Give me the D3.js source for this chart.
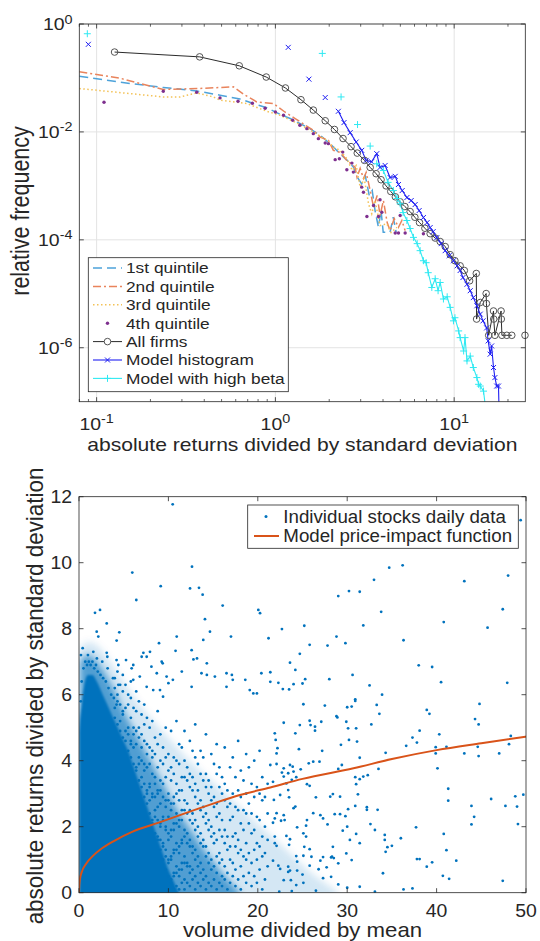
<!DOCTYPE html>
<html><head><meta charset="utf-8">
<script src="https://cdn.jsdelivr.net/npm/d3@7"></script>
<style>
body{margin:0;background:#fff}
text{font-family:"Liberation Sans",Arial,Helvetica,sans-serif;fill:#262626}
</style>
</head><body>
<svg id="c" width="540" height="941"></svg>
<script>
// ---------------- TOP PANEL DATA (log-log) ----------------
const topXTicks = [0.1, 1, 10];
const topXTickExp = ["-1", "0", "1"];
const topYTicks = [1e-6, 1e-4, 1e-2, 1];
const topYTickExp = ["-6", "-4", "-2", "0"];
const legendTop = ["1st quintile","2nd quintile","3rd quintile","4th quintile","All firms","Model histogram","Model with high beta"];

const q1 = [[0.08,0.108],[0.135,0.0835],[0.236,0.0666],[0.363,0.0576],[0.490,0.0479],[0.634,0.0407],[0.753,0.0336],[0.895,0.028],[1.06,0.0212],[1.21,0.0177],[1.37,0.0143],[1.56,0.0115],[1.78,0.00865],[2.02,0.00606],[2.30,0.00395],[2.52,0.00297],[2.73,0.00223],[2.90,0.00137],[3.04,0.00109],[3.18,0.00156],[3.35,0.000663],[3.48,0.00082],[3.61,0.000349],[3.77,0.000171],[3.90,0.000349],[4.01,0.000138],[4.38,0.000138],[4.56,0.000262],[4.74,0.000138]];
const q2 = [[0.08,0.130],[0.135,0.0991],[0.236,0.0611],[0.371,0.0638],[0.582,0.0684],[0.677,0.0479],[0.787,0.036],[0.975,0.0336],[1.13,0.0234],[1.29,0.0177],[1.47,0.0133],[1.63,0.0107],[1.78,0.00804],[1.98,0.00698],[2.11,0.00455],[2.30,0.00418],[2.51,0.00297],[2.79,0.00223],[2.86,0.00145],[2.98,0.00211],[3.11,0.00137],[3.22,0.00177],[3.39,0.00082],[3.54,0.000402],[3.71,0.000663],[3.85,0.000282],[4.02,0.000535],[4.22,0.000209],[4.38,0.000148],[4.62,0.000248],[4.88,0.000171],[5.10,0.000228],[5.32,0.000148]];
const q3 = [[0.08,0.0638],[0.236,0.0445],[0.293,0.0445],[0.363,0.0528],[0.450,0.0445],[0.490,0.0387],[0.692,0.0336],[0.895,0.0241],[1.06,0.0204],[1.32,0.0146],[1.63,0.00995],[1.94,0.00698],[2.11,0.00524],[2.30,0.00455],[2.51,0.00319],[2.69,0.00193],[2.83,0.00239],[2.98,0.000946],[3.14,0.00137],[3.32,0.000465],[3.46,0.000303],[3.61,0.000535],[3.85,0.000184],[4.20,0.000198],[4.44,0.000136],[4.78,0.000171]];
const q4 = [[0.110,0.0355],[0.236,0.0568],[0.363,0.0545],[0.490,0.0427],[0.618,0.037],[0.743,0.034],[0.876,0.0275],[1.0,0.0234],[1.11,0.0204],[1.25,0.0164],[1.37,0.0133],[1.50,0.0115],[1.63,0.00929],[1.74,0.0075],[1.90,0.00622],[1.98,0.00606],[2.16,0.00306],[2.28,0.00319],[2.38,0.00423],[2.51,0.00199],[2.68,0.00264],[2.73,0.0018],[3.04,0.000946],[3.11,0.000764],[3.25,0.00027],[3.54,0.000432],[3.77,0.00027],[3.85,0.000552],[3.94,0.000324],[4.68,0.000134],[4.88,0.000134],[4.99,0.000282],[5.32,0.000134],[6.73,0.000130]];
const allFirms = [[0.126,0.302],[0.377,0.246],[0.628,0.168],[0.889,0.104],[1.138,0.0652],[1.39,0.0395],[1.63,0.0254],[1.90,0.0161],[2.14,0.0111],[2.39,0.00754],[2.65,0.00533],[2.87,0.00405],[3.15,0.00297],[3.39,0.00220],[3.66,0.00168],[3.90,0.00130],[4.16,0.00100],[4.42,0.000787],[4.69,0.000627],[4.99,0.000506],[5.30,0.000414],[5.67,0.000334],[6.03,0.000262],[6.40,0.000209],[6.86,0.000164],[7.34,0.000130],[7.83,0.000108],[8.35,9.3e-5],[8.91,7.5e-5],[9.50,5.3e-5],[10.1,4.1e-5],[10.8,3.3e-5],[11.4,2.7e-5],[12.2,1.74e-5],[13.3,2.38e-5],[13.35,3.4e-6],[14.0,6.9e-6],[15.1,1.01e-5],[15.15,6.6e-6],[15.6,1.7e-6],[16.6,4.8e-6],[16.65,3.4e-6],[16.9,1.7e-6],[18.3,4.8e-6],[18.35,3.4e-6],[18.5,1.7e-6],[19.7,1.7e-6],[21.0,1.7e-6],[22.5,0],[24.9,1.7e-6]];
const modelHist = [[0.0899,0.42],[0.1,0],[1.18,0.369],[1.3,0],[1.54,0.095],[1.7,0],[1.90,0.0434],[2.05,0],[2.25,0.0241],[2.42,0.0149],[2.62,0.0097],[2.83,0.00649],[3.04,0.00455],[3.22,0.00297],[3.45,0.0028],[3.69,0.00395],[3.85,0.0022],[4.11,0.00239],[4.38,0.00143],[4.68,0.0015],[4.88,0.00106],[5.12,0.00082],[5.44,0.000608],[5.75,0.000535],[6.05,0.000451],[6.37,0.000349],[6.73,0.000259],[7.06,0.000209],[7.34,0.000169],[7.63,0.000142],[8.00,0.00011],[8.46,8.5e-5],[8.91,6.3e-5],[9.38,5.1e-5],[9.91,4.1e-5],[10.4,3.3e-5],[10.8,2.7e-5],[11.2,2.0e-5],[11.8,1.5e-5],[12.3,1.14e-5],[12.8,8.5e-6],[13.4,6.0e-6],[14.0,4.2e-6],[14.5,3.15e-6],[15.2,2.33e-6],[15.5,1.34e-6],[15.9,7.6e-7],[16.2,1.08e-6],[16.6,4.3e-7],[16.9,2.8e-7],[17.3,1.95e-7],[17.7,1.95e-7],[17.8,9e-8]];
const highBeta = [[0.0887,0.66],[0.1,0],[1.83,0.285],[2.0,0],[2.33,0.0445],[2.55,0],[2.88,0.0137],[3.1,0],[3.39,0.00547],[3.55,0],[3.69,0.00257],[4.02,0.00193],[4.27,0.00116],[4.57,0.00082],[4.80,0.000583],[4.99,0.000465],[5.18,0.00032],[5.44,0.000228],[5.67,0.000162],[5.92,0.000111],[6.21,8.5e-5],[6.45,6.3e-5],[6.73,4.1e-5],[6.97,3.77e-5],[7.16,2.46e-5],[7.50,1.31e-5],[7.83,1.9e-5],[8.13,1.14e-5],[8.35,1.62e-5],[8.71,8.0e-6],[9.14,8.8e-6],[9.50,5.6e-6],[9.91,3.15e-6],[10.1,3.6e-6],[10.6,2.05e-6],[10.8,1.54e-6],[11.3,8.7e-7],[11.5,1.54e-6],[11.8,5.7e-7],[12.3,7.0e-7],[12.8,4.3e-7],[13.4,2.8e-7],[13.7,2.1e-7],[14.0,1.95e-7],[14.6,1.57e-7],[14.9,9e-8]];

// ---------------- BOTTOM PANEL DATA ----------------
const botXTicks = [0,10,20,30,40,50];
const botYTicks = [0,2,4,6,8,10,12];
const legendBot = ["Individual stocks daily data","Model price-impact function"];
// density contours of the point cloud (upper edges)
const cloudCore = [[0.03,0],[0.03,4.8],[0.3,5.7],[0.6,6.3],[1.0,6.6],[1.5,6.6],[2.0,6.4],[2.5,6.1],[3.0,5.8],[3.5,5.5],[4.0,5.2],[4.5,4.9],[5.0,4.6],[5.5,4.3],[6.0,3.9],[6.5,3.5],[7.0,3.1],[7.5,2.7],[8.0,2.3],[8.5,1.9],[9.0,1.5],[9.5,1.1],[10.0,0.7],[10.5,0.4],[11.0,0.1],[11.2,0]];
const cloudMid = [[0.03,0],[0.03,7.0],[1,7.2],[2,7.0],[3,6.6],[4,6.1],[5,5.5],[6,5.0],[7,4.5],[8,4.0],[9,3.5],[10,3.0],[11,2.5],[12,2.1],[13,1.7],[14,1.3],[15,0.95],[16,0.6],[17,0.3],[18,0]];
const cloudOuter = [[0.03,0],[0.03,7.4],[1,7.6],[2,7.5],[3,7.2],[4,6.8],[5,6.4],[6,6.0],[8,5.3],[10,4.7],[12,4.1],[14,3.6],[16,3.1],[18,2.6],[20,2.1],[22,1.6],[24,1.1],[26,0.6],[28,0.2],[29,0]];
const fringeCols = [
[4.0,[5.3,5.6,6.2,6.5]],[4.3,[5.1,5.8,6.0,6.7]],[4.6,[4.9,5.2,5.7,6.3]],[4.9,[4.7,5.4,5.5,6.1,6.6]],
[5.2,[4.6,4.9,5.6,6.3]],[5.5,[4.3,4.8,5.0,5.7,6.0]],[5.8,[4.1,4.5,4.6,5.3,5.9,6.4]],[6.1,[3.9,4.4,4.8,5.0,5.6]],
[6.4,[3.7,3.8,4.5,4.9,5.5,6.1]],[6.7,[3.4,3.9,4.1,4.7,5.0,5.8]],[7.0,[3.2,3.5,4.0,4.4,4.8,5.4]],[7.3,[2.9,3.3,3.7,3.9,4.6,5.1,5.7]],
[7.6,[2.7,3.0,3.1,3.8,4.2,4.5,5.3]],[7.9,[2.4,2.8,3.2,3.3,3.9,4.4,5.0]],[8.2,[2.1,2.2,2.9,3.0,3.6,4.1,4.3,5.2]],[8.5,[1.8,2.3,2.5,2.9,3.3,3.5,4.2,4.7]],
[8.8,[1.6,1.7,2.2,2.6,3.0,3.1,3.8,4.5,5.5]],[9.1,[1.3,1.6,2.0,2.1,2.7,3.1,3.4,4.0,4.8]],[9.4,[1.0,1.4,1.5,2.2,2.3,2.9,3.3,3.9,4.4]],[9.7,[0.7,1.1,1.3,1.9,2.0,2.6,2.8,3.5,4.1,5.0]],
[10.0,[0.5,0.9,1.0,1.6,1.8,2.3,2.8,3.0,3.7,4.2]],[10.3,[0.3,0.4,1.0,1.1,1.7,1.9,2.5,2.7,3.4,3.8,4.9]],[10.6,[0.1,0.5,0.6,1.2,1.3,1.9,2.1,2.7,2.9,3.6,4.1]],[10.9,[0.2,0.6,0.8,1.3,1.5,2.1,2.4,3.0,3.3,4.0,5.2]],
[11.2,[0.1,0.5,0.7,1.2,1.4,2.0,2.2,2.8,3.1,3.9,4.5]],[11.5,[0.3,0.7,0.9,1.5,1.6,2.2,2.5,3.1,3.5,4.4]],[11.8,[0.1,0.4,0.9,1.1,1.7,1.9,2.5,2.8,3.5,4.0,4.9]],[12.1,[0.3,0.8,0.9,1.5,1.8,2.4,2.7,3.4,3.8]],
[12.4,[0.2,0.6,0.8,1.4,1.6,2.2,2.5,3.2,3.6,4.6]],[12.7,[0.4,0.7,1.2,1.4,2.1,2.4,3.1,3.5,4.3]],[13.0,[0.1,0.5,1.0,1.3,1.9,2.2,2.9,3.3,4.1,5.1]],[13.3,[0.3,0.8,1.1,1.7,2.0,2.7,3.1,3.9]],
[13.6,[0.2,0.6,0.9,1.5,1.8,2.5,2.8,3.6,4.3]],[13.9,[0.4,0.7,1.4,1.6,2.3,2.6,3.4,4.1]],[14.2,[0.1,0.5,1.1,1.4,2.1,2.4,3.2,3.6,4.8]],[14.5,[0.3,0.9,1.2,1.9,2.2,3.0,3.4]],
[14.8,[0.2,0.7,1.0,1.7,2.0,2.8,3.2,4.2]],[15.1,[0.4,0.8,1.5,1.8,2.6,2.9,3.9]],[15.4,[0.1,0.6,1.1,1.6,2.3,2.7,3.6,4.5]],[15.7,[0.3,0.9,1.2,1.9,2.4,3.2,3.8]],
[16.0,[0.2,0.5,1.0,1.7,2.2,3.0,3.5]],[16.3,[0.4,0.8,1.5,1.9,2.8,3.3,4.4]],[16.6,[0.1,0.6,1.3,1.7,2.6,3.1]],[16.9,[0.3,1.0,1.4,2.2,2.7,3.8]],
[17.2,[0.5,0.9,1.7,2.3,3.0,4.1]],[17.5,[0.2,0.7,1.4,1.8,2.6,3.5]],[17.8,[0.4,1.2,1.6,2.5,3.1,4.6]],[18.1,[0.1,0.8,1.3,2.1,2.9,3.7]],
[18.4,[0.5,1.1,1.9,2.5,3.4]],[18.7,[0.3,1.0,1.5,2.4,3.0,4.2]],[19.0,[0.6,1.2,2.1,2.7,3.8]],[19.3,[0.2,0.9,1.8,2.4,3.3]],
[19.6,[0.5,1.3,1.9,2.9,4.0]],[19.9,[0.3,1.0,1.5,2.3,3.2]],[20.2,[0.7,1.4,2.2,3.0,4.3]],[20.5,[0.1,1.1,1.7,2.8,3.5]],
[20.8,[0.4,1.2,2.0,2.9]],[21.1,[0.8,1.6,2.4,3.3]]
];
const blobTop = [[0.3,6.4],[0.5,6.8],[0.7,7.0],[0.9,6.9],[1.1,7.0],[1.3,6.9],[1.5,7.0],[1.7,6.8],[1.9,6.9],[2.1,6.7],[2.4,6.6],[2.7,6.5],[3.0,6.4],[3.3,6.2],[3.6,6.0],[3.9,5.9],[4.2,5.7],[1.0,7.2],[2.0,7.1],[0.2,5.8],[3.2,6.8],[2.6,7.0],[3.8,6.5],[4.4,6.3],[1.6,7.3]];
const outliers = [
[10.48,11.77],[5.96,9.70],[12.64,9.88],[9.14,9.29],[12.42,9.22],[13.42,9.24],[13.83,9.03],[6.41,8.87],[16.07,8.70],[1.79,8.48],[2.35,8.57],[20.06,8.57],[20.25,8.47],[14.09,8.29],[3.10,8.16],[1.98,7.91],[2.16,7.76],[4.51,7.89],[14.65,7.91],[4.21,7.64],[10.93,7.76],[17.0,7.76],[13.9,7.66],[0.41,7.41],[0.22,7.20],[8.95,7.56],[12.6,7.35],[21.2,7.71],[5.26,7.05],[7.2,7.27],[7.57,7.15],[7.01,7.15],[7.94,7.30],[5.89,6.80],[6.07,6.90],[3.1,7.27],[3.17,7.15],[9.25,7.0],[9.36,6.95],[10.8,7.33],[12.8,7.07],[13.2,7.1],[14.3,6.95],[4.2,7.05],[4.4,6.9],[8.1,6.85],[8.7,6.65],[11.5,6.70],[13.7,6.65],[14.3,6.6],[16.5,6.65],[17.1,6.6],[15.2,6.55],[18.6,6.45],[20.4,6.65],[10.5,6.45],[12.6,6.24],[6.07,6.45],[6.8,6.55],[9.8,6.55],[10.0,6.35],[7.57,6.24],[8.3,6.14],[9.06,6.14],[9.4,5.94],[19.1,6.14],[19.5,6.04],[16.5,6.24],[19.9,6.04],[17.2,6.45],
[49.4,11.29],[34.7,9.85],[36.2,9.92],[33.0,9.48],[43.1,9.44],[48.0,9.61],[29.0,8.99],[30.2,9.14],[31.4,9.12],[33.8,8.51],[47.4,8.59],[22.7,7.99],[25.2,8.09],[31.8,8.10],[40.8,8.20],[45.7,8.03],[25.8,7.51],[27.8,7.49],[28.8,7.76],[29.8,7.56],[36.3,7.65],[24.7,7.24],[23.6,6.97],[24.2,6.75],[38.0,6.89],[39.5,6.84],[21.4,6.68],[21.4,6.39],[22.3,6.36],[22.8,6.17],[23.5,6.16],[24.0,6.32],[25.0,6.34],[25.3,6.47],[28.0,6.47],[30.6,6.6],[32.5,6.28],[33.9,6.0],[40.5,6.38],[47.9,6.36],[30.9,5.86],
[25.1,5.71],[27.5,5.67],[30.0,5.62],[30.5,5.64],[30.9,5.81],[33.3,5.69],[33.6,5.42],[38.9,5.54],[39.2,5.42],[44.8,5.72],[44.3,5.26],[44.7,5.10],[22.9,5.15],[24.2,4.83],[21.9,4.83],[24.7,5.08],[25.8,5.21],[25.9,5.08],[26.4,5.03],[26.4,4.91],[27.1,5.18],[28.8,5.35],[28.9,5.31],[29.9,5.18],[30.1,4.98],[31.0,4.98],[31.1,4.58],[32.7,5.10],[29.3,4.48],[30.2,4.63],[24.6,4.35],[22.0,4.63],[22.2,4.38],[22.1,4.22],[27.2,4.30],[31.4,4.09],[34.3,4.24],[36.6,4.45],[37.3,4.70],[37.8,4.55],[38.1,4.91],[39.9,4.41],[39.9,4.22],[40.3,4.80],[41.1,4.42],[43.1,4.22],[44.7,4.14],[44.6,4.42],[47.0,4.22],[48.1,4.50],[48.3,4.75],
[29.0,3.75],[29.4,3.87],[26.9,3.97],[26.2,3.97],[25.7,3.92],[24.8,3.74],[23.9,3.82],[24.0,3.67],[23.4,3.62],[31.4,3.44],[32.3,3.56],[33.5,3.75],[30.9,3.50],[31.0,3.29],[31.2,2.98],[31.8,3.52],[40.1,3.77],[41.3,3.15],[41.3,2.79],[46.1,2.84],[47.7,2.63],[48.8,2.92],[49.7,2.97],[49.0,2.61],[49.1,2.08],[43.9,2.63],[44.2,2.30],[43.9,2.07],[26.5,2.89],[28.1,2.91],[29.2,2.91],[28.4,2.99],[30.9,2.63],[32.2,2.59],[32.2,2.51],[33.4,2.51],[23.5,2.89],[24.2,2.61],[24.0,2.56],[30.1,2.53],[29.8,2.32],[27.0,2.35],[27.3,2.25],[26.2,2.41],[25.5,2.20],[28.6,2.38],[29.2,2.38],[27.8,2.07],[22.1,2.41],[22.9,2.35],[23.0,2.20],[22.6,2.18],[21.9,2.25],[21.7,2.12],[24.4,1.98],[25.4,2.03],[30.0,2.00],[29.5,1.88],[32.6,2.08],[33.1,1.90],[31.0,1.78],[31.4,1.50],[34.2,1.75],[34.2,1.60],[34.5,1.38],[34.3,1.24],[35.0,1.42],[36.0,1.65],[37.7,1.98],[40.8,1.78],[41.1,1.29],[21.9,1.70],[21.9,1.50],[22.1,1.42],[23.2,1.72],[23.6,1.62],[23.5,1.45],[25.1,1.80],[25.4,1.70],[25.8,1.32],[25.2,1.39],[28.4,1.39],[27.3,1.08],[28.2,1.07],[28.5,1.05],[30.3,1.60],[29.9,1.19],[30.5,0.99],[37.8,1.02],[38.1,1.02],[38.9,0.79],[39.5,0.92],[42.2,0.97],[40.7,0.51],[41.4,0.42],[47.4,0.36],[34.0,0.59],
[21.7,0.97],[22.3,0.82],[22.5,0.72],[23.4,0.79],[23.4,0.63],[23.6,0.67],[24.4,0.67],[24.4,0.94],[24.3,1.11],[25.1,1.12],[26.0,1.09],[25.8,0.82],[26.8,0.71],[27.7,0.77],[27.3,0.44],[28.2,0.48],[29.0,0.25],[30.0,0.15],[31.4,0.18],[33.1,0.03],[26.5,0.06],[25.1,0.30],[24.3,0.23],[23.8,0.05],[22.9,0.38],[22.4,0.03],[27.0,0.97],[28.3,1.09],[29.0,0.89],[23.7,0.38],[25.0,0.55],[36.3,0.10],[37.3,0.13],
[21.4,3.87],[22.1,3.90],[22.9,3.77],[23.6,3.87],[22.7,3.64],[22.9,3.52],[23.8,3.42],[24.3,3.50],[25.5,3.29],[25.8,3.24],[23.4,3.11],[22.5,2.96],[21.8,2.81],[21.7,3.36],[23.2,3.31]
];
const impactCurve = [[0,0],[0.03,0.2],[0.1,0.4],[0.3,0.62],[0.8,0.88],[1.5,1.1],[2.5,1.33],[4,1.58],[6,1.85],[9,2.13],[12,2.42],[15,2.7],[18,2.96],[21.4,3.19],[25,3.45],[30.7,3.77],[35,4.05],[40,4.32],[45,4.53],[50,4.73]];

// ---------------- COLOURS ----------------
const axCol = "#262626", gridCol = "#e3e3e3";
const cQ1 = "#4EA3DA", cQ2 = "#E9845C", cQ3 = "#F3C257", cQ4 = "#7E2F8E";
const cAll = "#2b2b2b", cAllMk = "#555", cHist = "#1f1ff2", cBeta = "#2fe9f2";
const cDots = "#0072BD", cCurve = "#D95319";

const svg = d3.select("#c");
const defs = svg.append("defs");
defs.append("filter").attr("id","soft").attr("x","-10%").attr("y","-10%").attr("width","120%").attr("height","120%")
  .append("feGaussianBlur").attr("stdDeviation",3.5);
defs.append("filter").attr("id","soft2").attr("x","-10%").attr("y","-10%").attr("width","120%").attr("height","120%")
  .append("feGaussianBlur").attr("stdDeviation",1.3);

function powLabel(x, y, e, anchor, fs, sx){
  const t = svg.append("text").attr("transform",`translate(${x},${y}) scale(${sx},1)`)
    .attr("text-anchor",anchor).style("font-size",fs+"px");
  t.append("tspan").text("10");
  t.append("tspan").attr("dy",-6.5).style("font-size","12px").text(e);
}

// ================= TOP PANEL =================
const T = {l:79.3, r:525.3, t:24, b:401.7};
const xT = d3.scaleLog().domain([0.08,25]).range([T.l,T.r]);
const yT = d3.scaleLog().domain([1e-7,1]).range([T.b,T.t]);
defs.append("clipPath").attr("id","clipT").append("rect").attr("x",T.l).attr("y",T.t).attr("width",T.r-T.l).attr("height",T.b-T.t);

const gT = svg.append("g");
topXTicks.forEach(v=>gT.append("line").attr("x1",xT(v)).attr("x2",xT(v)).attr("y1",T.t).attr("y2",T.b).attr("stroke",gridCol).attr("stroke-width",1));
topYTicks.forEach(v=>gT.append("line").attr("y1",yT(v)).attr("y2",yT(v)).attr("x1",T.l).attr("x2",T.r).attr("stroke",gridCol).attr("stroke-width",1));

const lineT = d3.line().defined(d=>d[1]>0).x(d=>xT(d[0])).y(d=>yT(d[1]));
const gData = gT.append("g");
const gLines = gData.append("g").attr("clip-path","url(#clipT)");
gLines.append("path").attr("d",lineT(q1)).attr("fill","none").attr("stroke",cQ1).attr("stroke-width",1.5).attr("stroke-dasharray","9,5");
gLines.append("path").attr("d",lineT(q2)).attr("fill","none").attr("stroke",cQ2).attr("stroke-width",1.5).attr("stroke-dasharray","8,3,2,3");
gLines.append("path").attr("d",lineT(q3)).attr("fill","none").attr("stroke",cQ3).attr("stroke-width",1.5).attr("stroke-dasharray","1.5,2.5");
gData.selectAll(".q4").data(q4).join("circle").attr("cx",d=>xT(d[0])).attr("cy",d=>yT(d[1])).attr("r",1.7).attr("fill",cQ4);
gLines.append("path").attr("d",lineT(allFirms)).attr("fill","none").attr("stroke",cAll).attr("stroke-width",1);
gData.selectAll(".af").data(allFirms.filter(d=>d[1]>0)).join("circle").attr("cx",d=>xT(d[0])).attr("cy",d=>yT(d[1])).attr("r",3.3).attr("fill","none").attr("stroke",cAllMk).attr("stroke-width",1);
gLines.append("path").attr("d",lineT(modelHist)).attr("fill","none").attr("stroke",cHist).attr("stroke-width",1.1);
gData.selectAll(".mh").data(modelHist.filter(d=>d[1]>=1e-7)).join("path").attr("transform",d=>`translate(${xT(d[0])},${yT(d[1])})`).attr("d","M-2.5,-2.5L2.5,2.5M-2.5,2.5L2.5,-2.5").attr("stroke",cHist).attr("stroke-width",1);
gLines.append("path").attr("d",lineT(highBeta)).attr("fill","none").attr("stroke",cBeta).attr("stroke-width",1.1);
gData.selectAll(".hb").data(highBeta.filter(d=>d[1]>=1e-7)).join("path").attr("transform",d=>`translate(${xT(d[0])},${yT(d[1])})`).attr("d","M-3.5,0H3.5M0,-3.5V3.5").attr("stroke",cBeta).attr("stroke-width",1);

gT.append("rect").attr("x",T.l).attr("y",T.t).attr("width",T.r-T.l).attr("height",T.b-T.t).attr("fill","none").attr("stroke",axCol).attr("stroke-width",0.8);
const minorX = [];
[0.01,0.1,1,10].forEach(dec=>{for(let k=2;k<=9;k++){const v=dec*k; if(v>=0.08&&v<=25) minorX.push(v);}});
minorX.forEach(v=>{
  gT.append("line").attr("x1",xT(v)).attr("x2",xT(v)).attr("y1",T.b).attr("y2",T.b-2.7).attr("stroke",axCol).attr("stroke-width",0.7);
  gT.append("line").attr("x1",xT(v)).attr("x2",xT(v)).attr("y1",T.t).attr("y2",T.t+2.7).attr("stroke",axCol).attr("stroke-width",0.7);
});
topXTicks.forEach(v=>{
  gT.append("line").attr("x1",xT(v)).attr("x2",xT(v)).attr("y1",T.b).attr("y2",T.b-4.5).attr("stroke",axCol).attr("stroke-width",0.8);
  gT.append("line").attr("x1",xT(v)).attr("x2",xT(v)).attr("y1",T.t).attr("y2",T.t+4.5).attr("stroke",axCol).attr("stroke-width",0.8);
});
topYTicks.forEach(v=>{
  gT.append("line").attr("y1",yT(v)).attr("y2",yT(v)).attr("x1",T.l).attr("x2",T.l+4.5).attr("stroke",axCol).attr("stroke-width",0.8);
  gT.append("line").attr("y1",yT(v)).attr("y2",yT(v)).attr("x1",T.r).attr("x2",T.r-4.5).attr("stroke",axCol).attr("stroke-width",0.8);
});
topXTicks.forEach((v,i)=>powLabel(xT(v),429.5,topXTickExp[i],"middle",16.2,1.2));
topYTicks.forEach((v,i)=>powLabel(72.5,yT(v)+6,topYTickExp[i],"end",16.2,1.2));
svg.append("text").attr("transform","translate(302.3,451) scale(1.16,1)").attr("text-anchor","middle").style("font-size","18.2px").text("absolute returns divided by standard deviation");
svg.append("text").attr("transform","translate(28.5,211) scale(1.17,1) rotate(-90)").attr("text-anchor","middle").style("font-size","21.5px").text("relative frequency");

const LT = {x:88.3, y:257.7, w:200, h:134};
svg.append("rect").attr("x",LT.x).attr("y",LT.y).attr("width",LT.w).attr("height",LT.h).attr("fill","#fff").attr("stroke",axCol).attr("stroke-width",0.8);
const rowY = i => 268 + i*18.4;
const sx0 = 93, sx1 = 122, sxm = 107.5;
const sample = (i,col,dash,w)=>svg.append("line").attr("x1",sx0).attr("x2",sx1).attr("y1",rowY(i)).attr("y2",rowY(i)).attr("stroke",col).attr("stroke-width",w).attr("stroke-dasharray",dash);
sample(0,cQ1,"9,5",1.5);
sample(1,cQ2,"8,3,2,3",1.5);
sample(2,cQ3,"1.5,2.5",1.5);
svg.append("circle").attr("cx",sxm).attr("cy",rowY(3)).attr("r",1.7).attr("fill",cQ4);
sample(4,cAll,null,1);
svg.append("circle").attr("cx",sxm).attr("cy",rowY(4)).attr("r",3.3).attr("fill","#fff").attr("stroke",cAllMk);
sample(5,cHist,null,1.1);
svg.append("path").attr("transform",`translate(${sxm},${rowY(5)})`).attr("d","M-2.5,-2.5L2.5,2.5M-2.5,2.5L2.5,-2.5").attr("stroke",cHist);
sample(6,cBeta,null,1.1);
svg.append("path").attr("transform",`translate(${sxm},${rowY(6)})`).attr("d","M-3.5,0H3.5M0,-3.5V3.5").attr("stroke",cBeta);
legendTop.forEach((s,i)=>svg.append("text").attr("transform",`translate(126,${rowY(i)+5.3}) scale(1.17,1)`).style("font-size","14.8px").text(s));

// ================= BOTTOM PANEL =================
const B = {l:79, r:526, t:496.7, b:892.7};
const xB = d3.scaleLinear().domain([0,50]).range([B.l,B.r]);
const yB = d3.scaleLinear().domain([0,12]).range([B.b,B.t]);
defs.append("clipPath").attr("id","clipB").append("rect").attr("x",B.l).attr("y",B.t).attr("width",B.r-B.l).attr("height",B.b-B.t);
const gB = svg.append("g").attr("clip-path","url(#clipB)");
const areaB = d3.area().x(d=>xB(d[0])).y0(B.b+20).y1(d=>yB(d[1])).curve(d3.curveMonotoneX);
const gHaze = gB.append("g").attr("filter","url(#soft)");
gHaze.append("path").attr("d",areaB(cloudOuter)).attr("fill",cDots).attr("opacity",0.17);
gHaze.append("path").attr("d",areaB(cloudMid)).attr("fill",cDots).attr("opacity",0.62);
gB.append("g").attr("filter","url(#soft2)").append("path").attr("d",areaB(cloudCore)).attr("fill",cDots);
const fringePts = fringeCols.flatMap(c=>c[1].map(y=>[c[0],y]));
const allPts = fringePts.concat(blobTop, outliers);
gB.selectAll(".pt").data(allPts).join("circle").attr("cx",d=>xB(d[0])).attr("cy",d=>yB(d[1])).attr("r",1.4).attr("fill",cDots);
gB.append("path").attr("d",d3.line().x(d=>xB(d[0])).y(d=>yB(d[1])).curve(d3.curveMonotoneX)(impactCurve)).attr("fill","none").attr("stroke",cCurve).attr("stroke-width",2);

const gBA = svg.append("g");
gBA.append("rect").attr("x",B.l).attr("y",B.t).attr("width",B.r-B.l).attr("height",B.b-B.t).attr("fill","none").attr("stroke",axCol).attr("stroke-width",0.8);
botXTicks.forEach(v=>{
  gBA.append("line").attr("x1",xB(v)).attr("x2",xB(v)).attr("y1",B.b).attr("y2",B.b-4.5).attr("stroke",axCol).attr("stroke-width",0.8);
  gBA.append("line").attr("x1",xB(v)).attr("x2",xB(v)).attr("y1",B.t).attr("y2",B.t+4.5).attr("stroke",axCol).attr("stroke-width",0.8);
  gBA.append("text").attr("transform",`translate(${xB(v)},916.5) scale(1.05,1)`).attr("text-anchor","middle").style("font-size","18.5px").text(v);
});
botYTicks.forEach(v=>{
  gBA.append("line").attr("y1",yB(v)).attr("y2",yB(v)).attr("x1",B.l).attr("x2",B.l+4.5).attr("stroke",axCol).attr("stroke-width",0.8);
  gBA.append("line").attr("y1",yB(v)).attr("y2",yB(v)).attr("x1",B.r).attr("x2",B.r-4.5).attr("stroke",axCol).attr("stroke-width",0.8);
  gBA.append("text").attr("transform",`translate(72,${yB(v)+6.6}) scale(1.05,1)`).attr("text-anchor","end").style("font-size","18.5px").text(v);
});
svg.append("text").attr("transform","translate(302.5,937) scale(1.11,1)").attr("text-anchor","middle").style("font-size","20px").text("volume divided by mean");
svg.append("text").attr("transform","translate(43,696) scale(1.05,1) rotate(-90)").attr("text-anchor","middle").style("font-size","22.4px").text("absolute returns divided by standard deviation");

svg.append("rect").attr("x",247.7).attr("y",505).attr("width",270.6).attr("height",43.3).attr("fill","#fff").attr("stroke",axCol).attr("stroke-width",0.8);
svg.append("circle").attr("cx",266).attr("cy",516.5).attr("r",1.5).attr("fill",cDots);
svg.append("line").attr("x1",254).attr("x2",279).attr("y1",536).attr("y2",536).attr("stroke",cCurve).attr("stroke-width",2);
legendBot.forEach((s,i)=>svg.append("text").attr("transform",`translate(283.3,${(i?536:516.5)+6.2}) scale(1.07,1)`).style("font-size","17.5px").text(s));
</script>
</body></html>
